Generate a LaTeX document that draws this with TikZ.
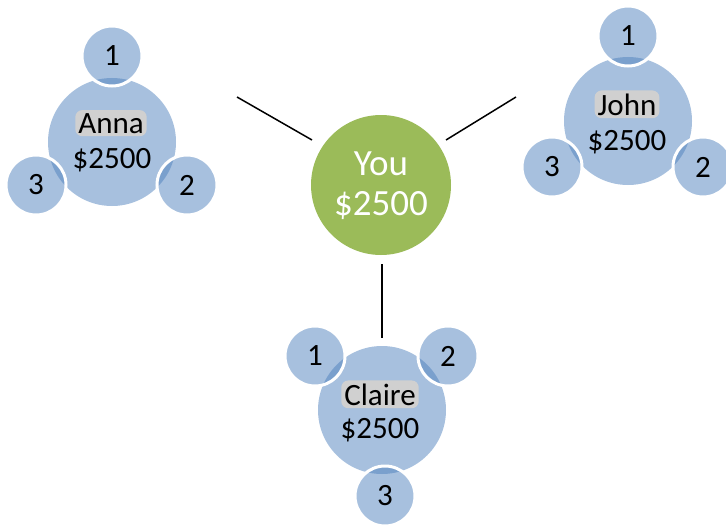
\documentclass[tikz,border=0pt]{standalone}
\usepackage{fontspec}
\setmainfont{Carlito}
\definecolor{acc}{HTML}{4F81BD}
\definecolor{grn}{HTML}{9BBB59}
\definecolor{hl}{HTML}{D0D0D0}
\begin{document}
\begin{tikzpicture}[x=1pt,y=-1pt,
  mainc/.style={circle,fill=acc,fill opacity=0.5,minimum size=128pt,inner sep=0pt},
  smallc/.style={circle,fill=acc,fill opacity=0.5,text opacity=1,draw=white,draw opacity=1,line width=3pt,minimum size=60pt,inner sep=0pt,font=\fontsize{31}{36}\selectfont},
  youc/.style={circle,fill=grn,minimum size=140pt,inner sep=0pt},
  lbl/.style={anchor=base,inner sep=0pt,font=\fontsize{31}{36}\selectfont},
  namelbl/.style={lbl,fill=hl,rounded corners=7pt,inner xsep=3pt,inner ysep=3pt},
  youlbl/.style={anchor=base,inner sep=0pt,text=white,font=\fontsize{37}{40}\selectfont},
  link/.style={line width=1.5pt}]
\useasboundingbox (0,0) rectangle (726,527);
% You
\node[youc] (you) at (381,185) {};
\node[youlbl] (youname) at (381,175) {You};
\node[youlbl] (youamt) at (381,215) {\$2500};
% connectors
\coordinate (la) at (237,97);
\coordinate (lb) at (312,140);
\coordinate (ra) at (446,140);
\coordinate (rb) at (516,97);
\coordinate (ba) at (382,264);
\coordinate (bb) at (382,338);
\draw[link] (la) -- (lb);
\draw[link] (ra) -- (rb);
\draw[link] (ba) -- (bb);
% Anna
\node[mainc] (anna) at (112,142) {};
\node[smallc] (anna1) at (112,56) {1};
\node[smallc] (anna2) at (187,185) {2};
\node[smallc] (anna3) at (36,185) {3};
\node[namelbl] (annaname) at (111,133) {Anna};
\node[lbl] (annaamt) at (112,168) {\$2500};
% John
\node[mainc] (john) at (628,121) {};
\node[smallc] (john1) at (628,36) {1};
\node[smallc] (john2) at (703,167) {2};
\node[smallc] (john3) at (552,167) {3};
\node[namelbl] (johnname) at (627,115) {John};
\node[lbl] (johnamt) at (627,150) {\$2500};
% Claire
\node[mainc] (claire) at (382,410) {};
\node[smallc] (claire1) at (315,356) {1};
\node[smallc] (claire2) at (448,356) {2};
\node[smallc] (claire3) at (385,496) {3};
\node[namelbl] (clairename) at (380,405) {Claire};
\node[lbl] (claireamt) at (380,438) {\$2500};
\end{tikzpicture}
\end{document}
